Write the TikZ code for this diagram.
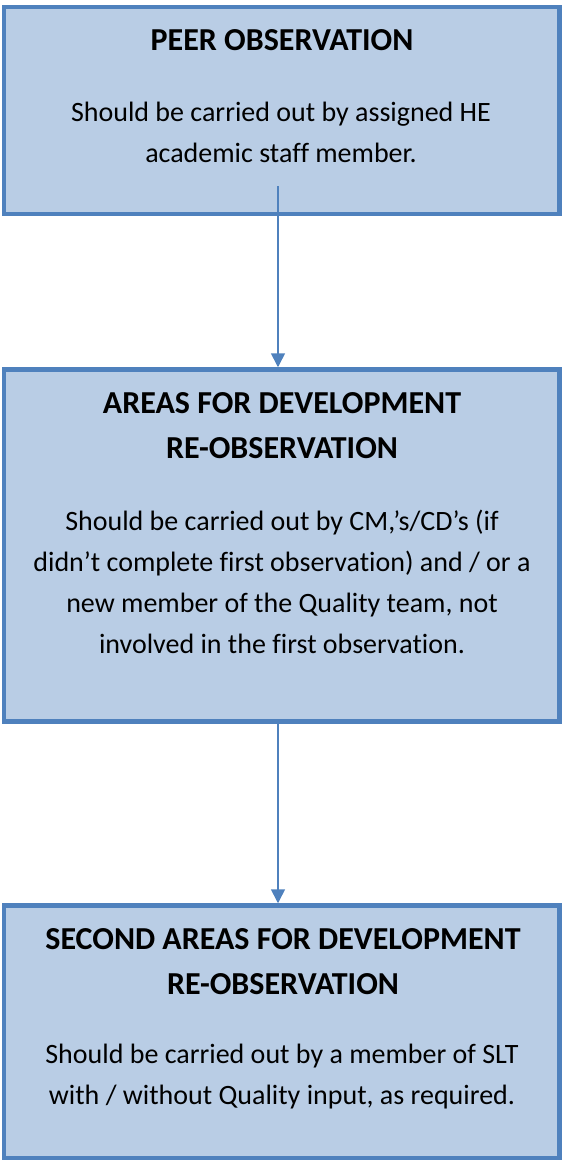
\documentclass[tikz,border=0pt]{standalone}
\usepackage{fontspec}
\setmainfont[Ligatures=CommonOff]{Carlito}
\usetikzlibrary{arrows.meta}
\definecolor{boxline}{HTML}{4F81BD}
\definecolor{boxfill}{HTML}{B9CDE5}
\tikzset{
  stagebox/.style={draw=boxline, fill=boxfill, line width=4.5pt, rectangle, inner sep=0pt},
  headtext/.style={align=center, inner sep=0pt, font=\fontsize{32}{45}\selectfont\bfseries},
  bodytext/.style={align=center, inner sep=0pt, font=\fontsize{28}{41}\selectfont},
  flow/.style={draw=boxline, line width=1.6pt, -{Triangle[width=14pt,length=14pt]}}
}
\begin{document}
\begin{tikzpicture}[x=1pt,y=-1pt]
\useasboundingbox (0,0) rectangle (562,1160);

% stage boxes
\node[stagebox, minimum width=555.5pt, minimum height=207pt] (peer) at (281.75,110.5) {};
\node[stagebox, minimum width=555.5pt, minimum height=352pt] (afd) at (281.75,545.5) {};
\node[stagebox, minimum width=555.5pt, minimum height=252.5pt] (safd) at (281.75,1031.75) {};

% box texts
\node[headtext] (peerhead) at (282,40) {PEER OBSERVATION};
\node[bodytext] (peerbody) at (281,132) {Should be carried out by assigned HE\\academic staff member.};

\node[headtext] (afdhead) at (282,426) {AREAS FOR DEVELOPMENT\\RE-OBSERVATION};
\node[bodytext] (afdbody) at (282,582) {Should be carried out by CM,’s/CD’s (if\\didn’t complete first observation) and / or a\\new member of the Quality team, not\\involved in the first observation.};

\node[headtext] (safdhead) at (283,962) {SECOND AREAS FOR DEVELOPMENT\\RE-OBSERVATION};
\node[bodytext] (safdbody) at (282,1077) {Should be carried out by a member of SLT\\with / without Quality input, as required.};

% connectors
\coordinate (peerout) at (278,186);
\draw[flow] (peerout) -- (peerout |- afd.north);
\draw[flow] (afd.south -| peerout) -- (peerout |- safd.north);
\end{tikzpicture}
\end{document}
